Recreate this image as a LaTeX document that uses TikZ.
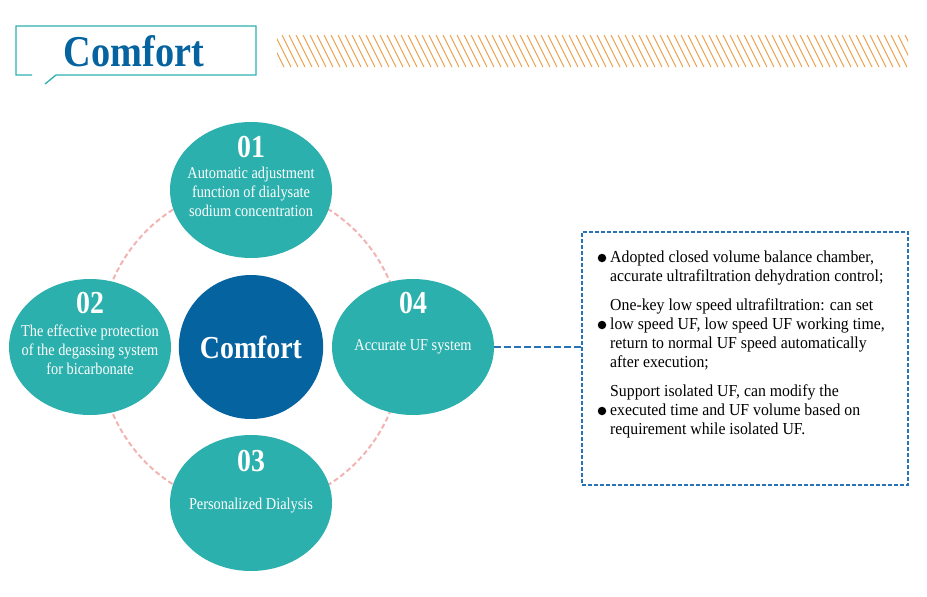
\documentclass[tikz,border=0pt]{standalone}
\usepackage{fontspec}
\setmainfont{Liberation Serif}[FakeStretch=0.87]
\newfontfamily\notefont{Liberation Serif}[FakeStretch=0.94]
\usetikzlibrary{shapes.geometric,positioning}
\definecolor{tealc}{HTML}{2CB0AD}
\definecolor{navyc}{HTML}{0563A0}
\definecolor{ringc}{HTML}{F2B3B3}
\definecolor{hatchc}{HTML}{EAA24E}
\definecolor{notec}{HTML}{2673B5}

\begin{document}
\begin{tikzpicture}[x=1pt,y=-1pt,
  blob/.style={ellipse,fill=tealc,inner sep=0pt,minimum width=162pt,minimum height=136pt},
  lbl/.style={text=white,inner sep=0pt,align=center,font=\fontsize{16.5}{19}\selectfont},
  num/.style={text=white,inner sep=0pt,font=\bfseries\fontsize{32}{32}\selectfont},
  para/.style={anchor=west,inner sep=0pt,align=left,font=\notefont\fontsize{16.8}{19}\selectfont},
  dot/.style={circle,fill=black,inner sep=0pt,minimum size=8.5pt},
  ring/.style={ringc,line width=2pt,dash pattern=on 5pt off 3pt},
  link/.style={notec,line width=2pt,dash pattern=on 7pt off 3pt}
]
\useasboundingbox (0,0) rectangle (927,597);
% header
\draw[tealc,line width=1.3pt] (32,75) -- (16,75) -- (16,26) -- (256,26) -- (256,75) -- (56,75) -- (45,84);
\node[text=navyc,font=\bfseries\fontsize{44}{44}\selectfont] (title) at (134,51) {Comfort};
\begin{scope}
  \clip (277,35) rectangle (908,67);
  \foreach \x in {261,268,...,910} \draw[hatchc,line width=1.1pt] (\x,35) -- ++(16,32);
\end{scope}
% ring of features
\draw[ring] (251,347) ellipse [x radius=152,y radius=160];
\node[blob] (c1) at (251,190) {};
\node[blob] (c2) at (90,347) {};
\node[blob] (c3) at (251,503) {};
\node[blob] (c4) at (413,347) {};
\node[lbl] (t1) at ([yshift=-2pt]c1.center) {Automatic adjustment\\function of dialysate\\sodium concentration};
\node[lbl] (t2) at ([yshift=-3pt]c2.center) {The effective protection\\of the degassing system\\for bicarbonate};
\node[lbl] (t3) at ([yshift=-3pt]c3.center) {Personalized Dialysis};
\node[lbl] (t4) at (c4.center) {Accurate UF system};
\node[num] (n1) at ([yshift=43pt]c1.center) {01};
\node[num] (n2) at ([yshift=44pt]c2.center) {02};
\node[num] (n3) at ([yshift=42pt]c3.center) {03};
\node[num] (n4) at ([yshift=44pt]c4.center) {04};
\node[ellipse,fill=navyc,minimum width=136pt,minimum height=144pt,inner sep=0pt,text=white,font=\bfseries\fontsize{32}{32}\selectfont] (hub) at (251,347) {Comfort};
% notes
\node[draw=notec,line width=1.3pt,dash pattern=on 4pt off 2pt,minimum width=326pt,minimum height=253pt,inner sep=0pt] (info) at (745,358.5) {};
\draw[link] (c4.east) -- (c4.east -| info.west);
\node[para] (p1) at (610,267.5) {Adopted closed volume balance chamber,\\accurate ultrafiltration dehydration control;};
\node[para] (p2) at (610,334.5) {One-key low speed ultrafiltration: can set\\low speed UF, low speed UF working time,\\return to normal UF speed automatically\\after execution;};
\node[para] (p3) at (610,411) {Support isolated UF, can modify the\\executed time and UF volume based on\\requirement while isolated UF.};
\node[dot] (d1) at (602,258) {};
\node[dot] (d2) at (602,325) {};
\node[dot] (d3) at (602,411) {};
\end{tikzpicture}
\end{document}
